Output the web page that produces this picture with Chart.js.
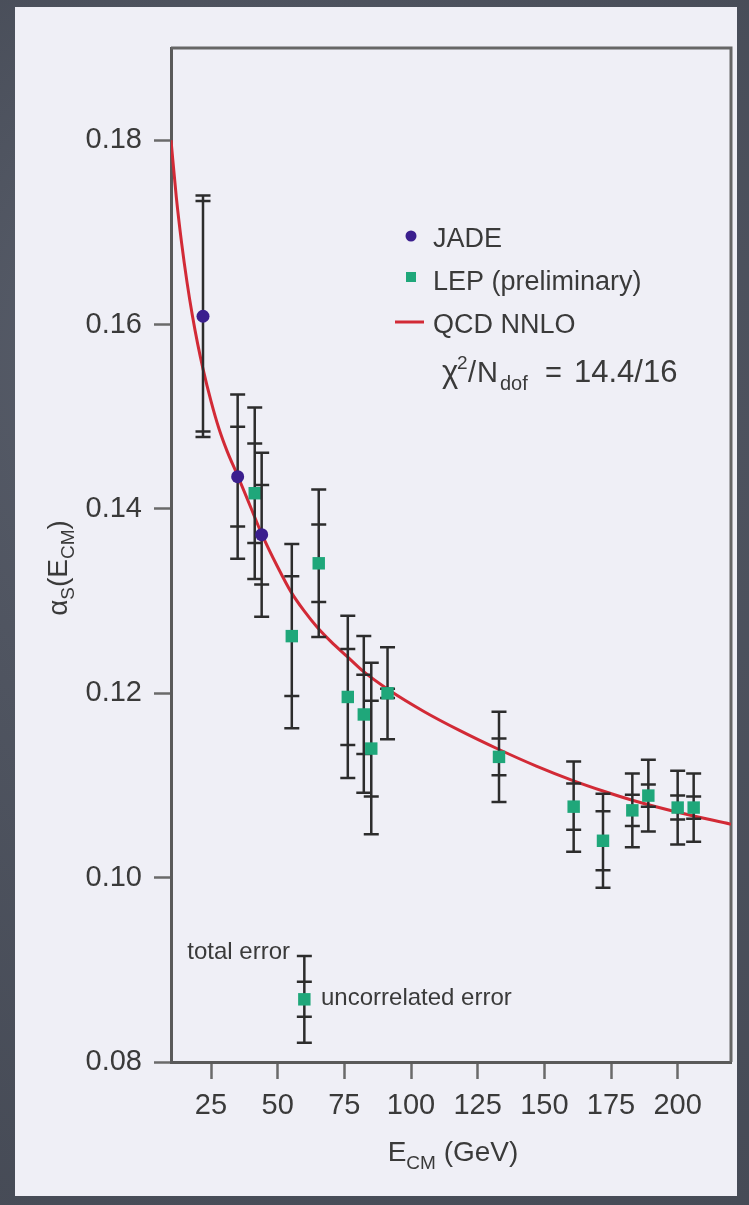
<!DOCTYPE html>
<html>
<head>
<meta charset="utf-8">
<script src="https://cdn.jsdelivr.net/npm/chart.js@4.4.1/dist/chart.umd.min.js"></script>
<style>
html,body{margin:0;padding:0;background:#4d525e;}
#wrap{width:749px;height:1205px;}
canvas{display:block;}
</style>
</head>
<body>
<div id="wrap"><canvas id="c" width="749" height="1205"></canvas></div>
<script>
// JADE measurements: centre-of-mass energy (GeV), alpha_s, total and uncorrelated errors
const jadeEnergy = [22, 35, 44];
const jadeAlpha = [0.1609, 0.1435, 0.1372];
const jadeTotalErr = [0.0131, 0.0089, 0.0089];
const jadeUncorrErr = [0.0125, 0.0054, 0.0054];

// LEP (preliminary) measurements
const lepEnergy = [41.4, 55.3, 65.4, 76.3, 82.3, 85.1, 91.2, 133, 161, 172, 183, 189, 200, 206];
const lepAlpha = [0.1417, 0.1262, 0.1341, 0.1196, 0.1177, 0.1140, 0.1200, 0.1131, 0.1077, 0.1040, 0.1073, 0.1089, 0.1076, 0.1076];
const lepTotalErr = [0.0093, 0.0100, 0.0080, 0.0088, 0.0085, 0.0093, 0.0050, 0.0049, 0.0049, 0.0051, 0.0040, 0.0039, 0.0040, 0.0037];
const lepUncorrErr = [0.0054, 0.0065, 0.0042, 0.0052, 0.0043, 0.0052, 0.0005, 0.0020, 0.0025, 0.0032, 0.0017, 0.0012, 0.0013, 0.0012];

// QCD NNLO running coupling
const qcdEnergy = [10, 12, 14, 16, 18, 20, 22, 25, 28, 31, 35, 40, 44, 50, 55, 60, 65, 70, 76, 82, 92, 105, 118, 133, 147, 161, 172, 183, 200, 220];
const qcdAlpha = [0.1800, 0.1738, 0.1688, 0.1646, 0.1610, 0.1579, 0.1552, 0.1517, 0.1487, 0.1463, 0.1436, 0.1401, 0.1373, 0.1337, 0.1310, 0.1289, 0.1271, 0.1256, 0.1240, 0.1224, 0.1203, 0.1180, 0.1160, 0.1139, 0.1121, 0.1105, 0.1094, 0.1084, 0.1071, 0.1058];

// error key sample point
const keyEnergy = [60];
const keyAlpha = [0.0868];
const keyTotalErr = [0.0047];
const keyUncorrErr = [0.0019];

const xTickValues = [25, 50, 75, 100, 125, 150, 175, 200];
const yTickValues = [0.08, 0.10, 0.12, 0.14, 0.16, 0.18];

const FONT = '"Liberation Sans", Arial, sans-serif';
const TEXT = '#3a3a3a';
const JADE_COLOR = '#3b1f8e';
const LEP_COLOR = '#1fa77a';
const QCD_COLOR = '#d22a36';

const pts = (xs, ys) => xs.map((x, i) => ({x: x, y: ys[i]}));

// sequence of text runs with sizes and vertical offsets (sub/superscripts)
function drawRuns(ctx, runs, x, y, align) {
  let total = 0;
  runs.forEach(r => { ctx.font = r.size + 'px ' + FONT; r.w = ctx.measureText(r.t).width; total += r.w; });
  let cx = align === 'center' ? x - total / 2 : x;
  ctx.textAlign = 'left';
  ctx.textBaseline = 'alphabetic';
  runs.forEach(r => {
    ctx.font = r.size + 'px ' + FONT;
    const sx = r.x !== undefined ? r.x : cx;
    ctx.fillText(r.t, sx, y + (r.dy || 0));
    cx = sx + r.w;
  });
}

const panelPlugin = {
  id: 'panel',
  beforeDraw(chart) {
    const ctx = chart.ctx;
    ctx.save();
    ctx.fillStyle = '#4d525e';
    ctx.fillRect(0, 0, chart.width, chart.height);
    const g = ctx.createRadialGradient(200, 300, 50, 374, 600, 900);
    g.addColorStop(0, 'rgba(110,116,130,0.35)');
    g.addColorStop(1, 'rgba(40,44,52,0.25)');
    ctx.fillStyle = g;
    ctx.fillRect(0, 0, chart.width, chart.height);
    ctx.fillStyle = '#efeff6';
    ctx.fillRect(15, 7, 722, 1189);
    ctx.restore();
  }
};

const frameAndBarsPlugin = {
  id: 'frameBars',
  beforeDatasetsDraw(chart) {
    const {ctx, chartArea: a} = chart;
    ctx.save();
    ctx.strokeStyle = '#666';
    ctx.lineWidth = 3;
    ctx.beginPath();
    ctx.moveTo(a.left, a.top);
    ctx.lineTo(a.right, a.top);
    ctx.lineTo(a.right, a.bottom);
    ctx.stroke();
    ctx.restore();
  },
  beforeDatasetDraw(chart, args) {
    const ds = chart.data.datasets[args.index];
    if (!ds.errTotal) return;
    const {ctx, scales: {x, y}} = chart;
    ctx.save();
    ctx.strokeStyle = '#2c2c2c';
    ctx.lineWidth = 2.5;
    const hw = 7.5;
    ds.data.forEach((p, i) => {
      const px = x.getPixelForValue(p.x);
      const t = ds.errTotal[i], u = ds.errUncorr[i];
      const yt = y.getPixelForValue(p.y + t), yb = y.getPixelForValue(p.y - t);
      const ut = y.getPixelForValue(p.y + u), ub = y.getPixelForValue(p.y - u);
      ctx.beginPath();
      ctx.moveTo(px, yt); ctx.lineTo(px, yb);
      ctx.moveTo(px - hw, yt); ctx.lineTo(px + hw, yt);
      ctx.moveTo(px - hw, yb); ctx.lineTo(px + hw, yb);
      ctx.moveTo(px - hw, ut); ctx.lineTo(px + hw, ut);
      ctx.moveTo(px - hw, ub); ctx.lineTo(px + hw, ub);
      ctx.stroke();
    });
    ctx.restore();
  }
};

const annotationPlugin = {
  id: 'annotations',
  afterDraw(chart) {
    const ctx = chart.ctx;
    ctx.save();

    // legend
    ctx.fillStyle = JADE_COLOR;
    ctx.beginPath(); ctx.arc(411, 236, 5.5, 0, Math.PI * 2); ctx.fill();
    ctx.fillStyle = LEP_COLOR;
    ctx.fillRect(406, 272, 10, 10);
    ctx.strokeStyle = QCD_COLOR; ctx.lineWidth = 3;
    ctx.beginPath(); ctx.moveTo(395, 322); ctx.lineTo(424, 322); ctx.stroke();

    ctx.fillStyle = TEXT;
    drawRuns(ctx, [{t: 'JADE', size: 27}], 433, 247);
    drawRuns(ctx, [{t: 'LEP (preliminary)', size: 27}], 433, 290);
    drawRuns(ctx, [{t: 'QCD NNLO', size: 27}], 433, 333);
    drawRuns(ctx, [
      {t: '\u03C7', size: 31, x: 442},
      {t: '2', size: 19, dy: -13, x: 457},
      {t: '/', size: 29, x: 468},
      {t: 'N', size: 29, x: 477},
      {t: 'dof', size: 20, dy: 8, x: 500},
      {t: '=', size: 29, x: 545},
      {t: '14.4/16', size: 31, x: 574}
    ], 442, 382);

    // error key labels
    ctx.textAlign = 'right';
    ctx.textBaseline = 'alphabetic';
    ctx.font = '24px ' + FONT;
    ctx.fillText('total error', 290, 959);
    ctx.textAlign = 'left';
    ctx.fillText('uncorrelated error', 321, 1005);

    // x axis title
    drawRuns(ctx, [
      {t: 'E', size: 28},
      {t: 'CM', size: 19, dy: 8},
      {t: ' (GeV)', size: 28}
    ], 453, 1161, 'center');

    // y axis title
    ctx.translate(67, 568);
    ctx.rotate(-Math.PI / 2);
    drawRuns(ctx, [
      {t: '\u03B1', size: 28},
      {t: 'S', size: 19, dy: 7},
      {t: '(E', size: 28},
      {t: 'CM', size: 19, dy: 7},
      {t: ')', size: 28}
    ], 0, 0, 'center');
    ctx.restore();
  }
};

new Chart(document.getElementById('c'), {
  type: 'scatter',
  data: {
    datasets: [
      {
        label: 'JADE',
        data: pts(jadeEnergy, jadeAlpha),
        errTotal: jadeTotalErr,
        errUncorr: jadeUncorrErr,
        pointStyle: 'circle',
        pointRadius: 6.5,
        backgroundColor: JADE_COLOR,
        borderWidth: 0,
        order: 1
      },
      {
        label: 'LEP (preliminary)',
        data: pts(lepEnergy, lepAlpha),
        errTotal: lepTotalErr,
        errUncorr: lepUncorrErr,
        pointStyle: 'rect',
        pointRadius: 8.8,
        backgroundColor: LEP_COLOR,
        borderWidth: 0,
        order: 2
      },
      {
        label: 'error key',
        data: pts(keyEnergy, keyAlpha),
        errTotal: keyTotalErr,
        errUncorr: keyUncorrErr,
        pointStyle: 'rect',
        pointRadius: 8.8,
        backgroundColor: LEP_COLOR,
        borderWidth: 0,
        order: 2
      },
      {
        label: 'QCD NNLO',
        data: pts(qcdEnergy, qcdAlpha),
        showLine: true,
        pointRadius: 0,
        borderColor: QCD_COLOR,
        borderWidth: 3,
        cubicInterpolationMode: 'monotone',
        order: 3
      }
    ]
  },
  options: {
    responsive: false,
    devicePixelRatio: 1,
    animation: false,
    events: [],
    layout: {padding: {left: 0, top: 48, right: 18, bottom: 0}},
    plugins: {legend: {display: false}, tooltip: {enabled: false}},
    scales: {
      x: {
        type: 'linear',
        min: 10,
        max: 220,
        afterBuildTicks(scale) { scale.ticks = xTickValues.map(v => ({value: v})); },
        afterFit(scale) { scale.height = 143; },
        grid: {display: true, drawOnChartArea: false, drawTicks: true, tickLength: 17, tickWidth: 2.5, tickColor: '#6a6a6a'},
        border: {display: true, color: '#5a5a5a', width: 3},
        ticks: {
          font: {family: FONT, size: 29},
          color: TEXT,
          padding: 10,
          maxRotation: 0,
          autoSkip: false,
          callback: v => String(v)
        }
      },
      y: {
        type: 'linear',
        min: 0.08,
        max: 0.19,
        afterBuildTicks(scale) { scale.ticks = yTickValues.map(v => ({value: v})); },
        afterFit(scale) { scale.width = 171; },
        grid: {display: true, drawOnChartArea: false, drawTicks: true, tickLength: 17, tickWidth: 2.5, tickColor: '#6a6a6a'},
        border: {display: true, color: '#5a5a5a', width: 3},
        ticks: {
          font: {family: FONT, size: 29},
          color: TEXT,
          padding: 12,
          autoSkip: false,
          callback: v => Number(v).toFixed(2)
        }
      }
    }
  },
  plugins: [panelPlugin, frameAndBarsPlugin, annotationPlugin]
});
</script>
</body>
</html>
